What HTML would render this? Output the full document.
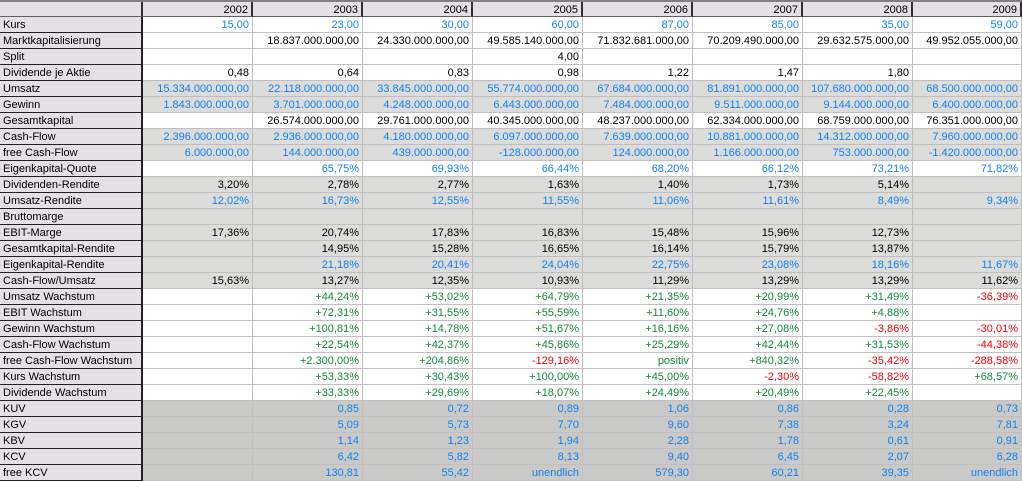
<!DOCTYPE html>
<html><head><meta charset="utf-8">
<style>
body{margin:0;width:1022px;height:481px;overflow:hidden;background:#fff;font-family:"Liberation Sans",Arial,sans-serif;font-size:11px;}
#t{position:relative;width:1022px;height:481px;}
.c{position:absolute;box-sizing:border-box;height:16px;line-height:17px;white-space:nowrap;overflow:hidden;border-right:1px solid #c0c0c0;border-bottom:1px solid #c0c0c0;text-align:right;padding-right:3px;}
.lab{text-align:left;padding-left:3px;background:#e5e0e5;border-right:2px solid #202020;border-bottom:1px solid #202020;color:#000;}
.hd{background:#e5e0e5;border-right:2px solid #303030;border-bottom:1px solid #606060;color:#000;line-height:16px;}
</style></head><body>
<div id="t"></div>
<script>
const years=['2002','2003','2004','2005','2006','2007','2008','2009'];
const labels=['Kurs','Marktkapitalisierung','Split','Dividende je Aktie','Umsatz','Gewinn','Gesamtkapital','Cash-Flow','free Cash-Flow','Eigenkapital-Quote','Dividenden-Rendite','Umsatz-Rendite','Bruttomarge','EBIT-Marge','Gesamtkapital-Rendite','Eigenkapital-Rendite','Cash-Flow/Umsatz','Umsatz Wachstum','EBIT Wachstum','Gewinn Wachstum','Cash-Flow Wachstum','free Cash-Flow Wachstum','Kurs Wachstum','Dividende Wachstum','KUV','KGV','KBV','KCV','free KCV'];
const rowBg=['w','w','w','w','g','g','w','g','g','w','g','g','g','g','g','g','g','w','w','w','w','w','w','w','d','d','d','d','d'];
const rowColor=['b','k','k','k','b','b','k','b','b','b','k','b','k','k','k','b','k','s','s','s','s','s','s','s','b','b','b','b','b'];
const values=[
['15,00','23,00','30,00','60,00','87,00','85,00','35,00','59,00'],
['','18.837.000.000,00','24.330.000.000,00','49.585.140.000,00','71.832.681.000,00','70.209.490.000,00','29.632.575.000,00','49.952.055.000,00'],
['','','','4,00','','','',''],
['0,48','0,64','0,83','0,98','1,22','1,47','1,80',''],
['15.334.000.000,00','22.118.000.000,00','33.845.000.000,00','55.774.000.000,00','67.684.000.000,00','81.891.000.000,00','107.680.000.000,00','68.500.000.000,00'],
['1.843.000.000,00','3.701.000.000,00','4.248.000.000,00','6.443.000.000,00','7.484.000.000,00','9.511.000.000,00','9.144.000.000,00','6.400.000.000,00'],
['','26.574.000.000,00','29.761.000.000,00','40.345.000.000,00','48.237.000.000,00','62.334.000.000,00','68.759.000.000,00','76.351.000.000,00'],
['2.396.000.000,00','2.936.000.000,00','4.180.000.000,00','6.097.000.000,00','7.639.000.000,00','10.881.000.000,00','14.312.000.000,00','7.960.000.000,00'],
['6.000.000,00','144.000.000,00','439.000.000,00','-128.000.000,00','124.000.000,00','1.166.000.000,00','753.000.000,00','-1.420.000.000,00'],
['','65,75%','69,93%','66,44%','68,20%','66,12%','73,21%','71,82%'],
['3,20%','2,78%','2,77%','1,63%','1,40%','1,73%','5,14%',''],
['12,02%','16,73%','12,55%','11,55%','11,06%','11,61%','8,49%','9,34%'],
['','','','','','','',''],
['17,36%','20,74%','17,83%','16,83%','15,48%','15,96%','12,73%',''],
['','14,95%','15,28%','16,65%','16,14%','15,79%','13,87%',''],
['','21,18%','20,41%','24,04%','22,75%','23,08%','18,16%','11,67%'],
['15,63%','13,27%','12,35%','10,93%','11,29%','13,29%','13,29%','11,62%'],
['','+44,24%','+53,02%','+64,79%','+21,35%','+20,99%','+31,49%','-36,39%'],
['','+72,31%','+31,55%','+55,59%','+11,60%','+24,76%','+4,88%',''],
['','+100,81%','+14,78%','+51,67%','+16,16%','+27,08%','-3,86%','-30,01%'],
['','+22,54%','+42,37%','+45,86%','+25,29%','+42,44%','+31,53%','-44,38%'],
['','+2.300,00%','+204,86%','-129,16%','positiv','+840,32%','-35,42%','-288,58%'],
['','+53,33%','+30,43%','+100,00%','+45,00%','-2,30%','-58,82%','+68,57%'],
['','+33,33%','+29,69%','+18,07%','+24,49%','+20,49%','+22,45%',''],
['','0,85','0,72','0,89','1,06','0,86','0,28','0,73'],
['','5,09','5,73','7,70','9,60','7,38','3,24','7,81'],
['','1,14','1,23','1,94','2,28','1,78','0,61','0,91'],
['','6,42','5,82','8,13','9,40','6,45','2,07','6,28'],
['','130,81','55,42','unendlich','579,30','60,21','39,35','unendlich']
];
const edges=[0,143,253,363,473,583,693,803,913,1022];
const bgs={w:'#ffffff',g:'#dcdcda',d:'#c9cac7'};
const tbl=document.getElementById('t');
function cell(x,y,w,h,cls,txt,bg,col){
  const d=document.createElement('div');
  d.className='c '+cls;
  d.style.left=x+'px';d.style.top=y+'px';d.style.width=w+'px';d.style.height=h+'px';
  if(bg)d.style.background=bg;
  if(col)d.style.color=col;
  d.textContent=txt;
  tbl.appendChild(d);
  return d;
}
const topBar=document.createElement('div');
topBar.style.cssText='position:absolute;left:0;top:0;width:1022px;height:2px;background:#808080;';


tbl.appendChild(topBar);
const corner=cell(0,2,143,15,'hd','','#e5e0e5');


years.forEach((y,j)=>{
  const d=cell(edges[j+1],2,edges[j+2]-edges[j+1],15,'hd',y);
  
  
});
labels.forEach((l,i)=>{
  const y=17+16*i;
  const lab=cell(0,y,143,16,'lab',l);
  
  
  values[i].forEach((v,j)=>{
    let col='#000';
    const rc=rowColor[i];
    if(rc==='b')col='#1482f0';
    else if(rc==='s')col=(v.startsWith('-')?'#f00000':'#138a3c');
    const d=cell(edges[j+1],y,edges[j+2]-edges[j+1],16,'',v,bgs[rowBg[i]],col);
    
    
  });
});
</script>
</body></html>
